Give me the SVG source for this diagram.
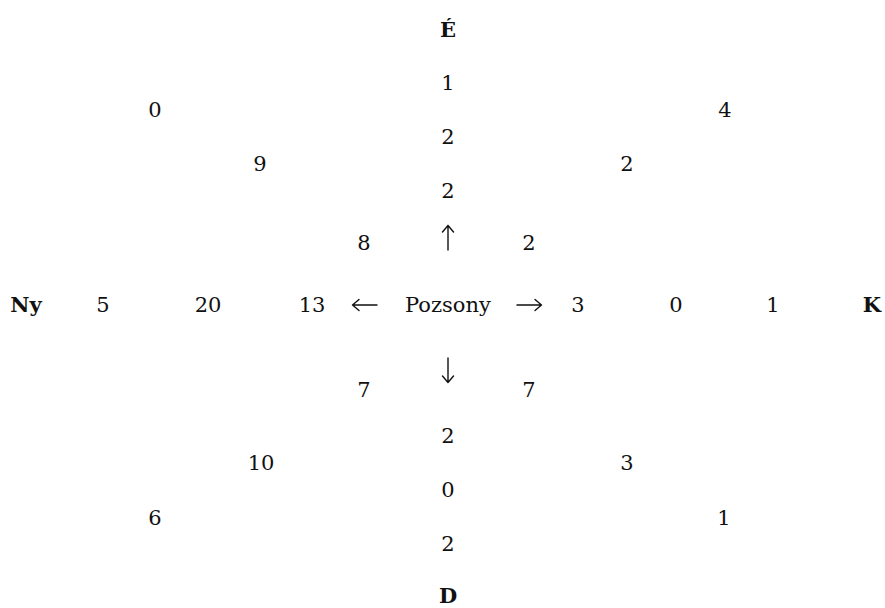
<svg xmlns="http://www.w3.org/2000/svg" width="885" height="608" viewBox="0 0 885 608">
<style>
text{font-family:"DejaVu Serif","Liberation Serif",serif;font-size:21px;fill:#111;text-anchor:middle}
.b{font-weight:bold}
.ar{fill:none;stroke:#111;stroke-width:1.4;stroke-linecap:round;stroke-linejoin:round}
</style>
<rect width="885" height="608" fill="#fff"/>
<g id="north">
<text x="448" y="37" class="b">É</text>
<text x="448" y="90">1</text>
<text x="448" y="144">2</text>
<text x="448" y="198">2</text>
</g>
<g id="northwest">
<text x="155" y="117">0</text>
<text x="260" y="171">9</text>
<text x="364" y="250">8</text>
</g>
<g id="northeast">
<text x="725" y="117">4</text>
<text x="627" y="171">2</text>
<text x="529" y="250">2</text>
</g>
<g id="west">
<text x="26" y="312" class="b">Ny</text>
<text x="103" y="312">5</text>
<text x="208" y="312">20</text>
<text x="312" y="312">13</text>
</g>
<g id="center">
<text x="448" y="312">Pozsony</text>
</g>
<g id="east">
<text x="578" y="312">3</text>
<text x="676" y="312">0</text>
<text x="773" y="312">1</text>
<text x="872" y="312" class="b">K</text>
</g>
<g id="southwest">
<text x="364" y="397">7</text>
<text x="261" y="470">10</text>
<text x="155" y="525">6</text>
</g>
<g id="southeast">
<text x="529" y="397">7</text>
<text x="627" y="470">3</text>
<text x="724" y="525">1</text>
</g>
<g id="south">
<text x="448" y="443">2</text>
<text x="448" y="497">0</text>
<text x="448" y="551">2</text>
<text x="448" y="603" class="b">D</text>
</g>
<g id="connectors" class="ar">
<path d="M448 250V225.5M442.5 232L448 225.5L453.5 232"/>
<path d="M448 358V382.5M442.5 376L448 382.5L453.5 376"/>
<path d="M377 305H352.5M359 299.5L352.5 305L359 310.5"/>
<path d="M517 305H541.5M535 299.5L541.5 305L535 310.5"/>
</g>
</svg>
